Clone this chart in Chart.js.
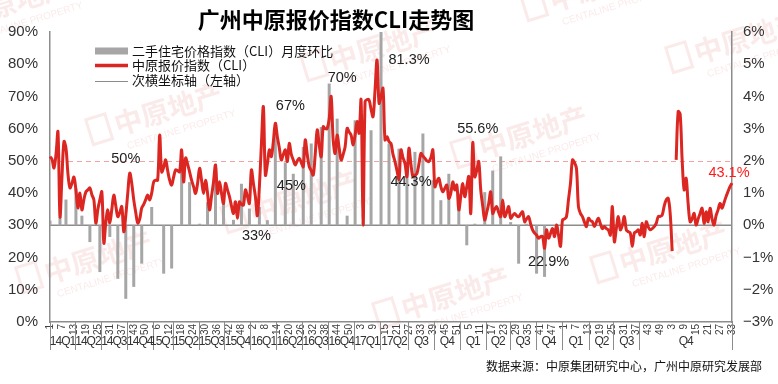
<!DOCTYPE html>
<html>
<head>
<meta charset="utf-8">
<script src="https://cdn.jsdelivr.net/npm/chart.js@4"></script>
<style>
  body { margin: 0; background: #fff; }
  #wrap { width: 778px; height: 384px; position: relative; }
</style>
</head>
<body>
<div id="wrap"><canvas id="cliChart"></canvas></div>
<script>
// 中原报价指数 CLI, weekly (left axis, %)
const cliValues = [
  51.3, 50.5, 47.8, 52, 59, 32.7, 45, 56, 54, 46,
  41.6, 43, 45, 41, 35.4, 40, 34.8, 38, 40.4, 41,
  41.6, 39.5, 37.9, 30.7, 35, 37.9, 40.4, 24.5, 31, 34.8,
  30.7, 35, 39.4, 36, 32.7, 34, 35.8, 28, 33, 40,
  46.2, 43, 37.9, 34, 30.7, 32, 35.4, 36.5, 38, 39.4,
  37.9, 40, 43.5, 44, 44, 58, 46.6, 48, 50.3, 47,
  44, 42.5, 45, 47.2, 47, 46.6, 53.4, 43.5, 50.9, 49,
  46.6, 44, 42, 39.9, 43, 47.7, 44, 39.9, 44, 40,
  34.8, 39, 43.5, 48.7, 39.9, 43.5, 40, 36.8, 43, 41,
  38.9, 36, 33.7, 37.3, 32.2, 37.3, 36.5, 36.3, 41, 39,
  36.8, 47.2, 43, 38.9, 33, 42, 55, 66.8, 45.6, 49,
  53.4, 51.3, 56, 61.7, 57.5, 54, 50.3, 52, 53.4, 49.8,
  55.4, 52, 50.3, 48.7, 50, 50.8, 49.5, 48.2, 56.5, 52,
  48.2, 47, 45.6, 52, 59.6, 55, 51.3, 60.6, 60, 60.1,
  63, 70, 56.5, 52.3, 58, 54, 50.3, 52, 54.4, 60.1,
  59, 58, 54.9, 58, 62.2, 58.6, 68.9, 30.1, 68.4, 69,
  68.9, 66, 63.7, 72, 81.3, 67.9, 70, 72.5, 56.5, 57.5,
  56, 55.4, 52, 49.8, 47, 44.3, 53.4, 51, 49.2, 45.1,
  53.9, 49, 45.1, 45.5, 46.1, 49, 52.3, 51.5, 50.8, 50,
  49.8, 51, 53.4, 42, 43.5, 44.6, 42, 40.4, 41.5, 42.5,
  38.4, 40, 43.5, 41, 42.5, 34.8, 39, 43, 38.9, 42,
  45.1, 33.7, 55.6, 45.1, 47, 49.8, 41, 36, 31.7, 34,
  36.8, 40.4, 33.7, 35, 35.8, 34, 32.7, 37.9, 32.7, 34,
  35.8, 32.2, 33, 33.7, 33, 32.7, 33.5, 34.2, 31.1, 32,
  32.7, 30.5, 28.6, 27.6, 27, 26, 26.5, 26.5, 22.9, 28.6,
  26, 27.5, 29, 26.5, 30.1, 27, 23.5, 31.7, 32, 32.7,
  38, 43, 50.3, 49.5, 47.7, 35.8, 33.7, 32.7, 31, 29.6,
  32.2, 31.5, 31.1, 29.6, 31, 32.2, 30.5, 29, 29.6, 29,
  28.6, 27, 35.8, 24.9, 29, 32.7, 28.6, 30, 32.7, 28.6,
  28, 27.6, 23.5, 27.6, 28, 28.6, 27, 30.6, 26.5, 31.1,
  29.5, 28.6, 29, 29.6, 30.6, 32.7, 32.8, 33.2, 36, 37.9,
  38.4, 33.7, 22, null, 50.3, 65.3, 64.5, 50.3, 41, 44.6,
  36.8, 31.1, 32, 33.7, 30.1, 32, 33.7, 35.3, 30.6, 34.2,
  31.1, 35.3, 32, 30.1, 33, 34.8, 36.8, 35.3, 37, 38.9,
  40.5, 42, 43.1
];

// 二手住宅价格指数 月度环比 (right axis, %), week index each month falls on
const barWeek = [0, 5, 8, 13, 16, 20, 25, 30, 34, 38, 42, 46, 51, 57, 61, 66, 70, 75, 79, 83,
  87, 92, 96, 100, 105, 109, 113, 118, 122, 127, 131, 136, 140, 144, 149, 153, 157, 161, 166, 170,
  175, 179, 183, 187, 192, 196, 200, 205, 209, 213, 218, 222, 226, 231, 235, 239, 244, 248];
const momChange = [0.15, 0.26, 0.8, 1.14, 0.3, -0.52, -1.45, -0.36, -1.66, -2.28, -1.91, -1.19, 0.57, -1.5, -1.34, 1.7, 1.34, 0.05, 0.72, 1.91,
  0.72, 0.17, 1.29, 0.52, 0.57, 0.16, 2.92, 1.95, 1.6, 2.43, 2.54, 3.05, 4.4, 3.31, 0.3, 3.26, 0.36, 2.95, 6.0, 2.54,
  2.38, 1.97, 2.28, 2.85, 1.4, 0.78, 1.6, 0.98, -0.62, 0.05, 1.03, 1.7, 2.14, 0.1, -1.19, 0.05, -1.5, -1.6];

// week tick labels, one every 6 weeks
const tickStep = 6;
const tickLabels = ['1', '7', '13', '19', '25', '31', '37', '43', '50',
  '6', '12', '18', '24', '30', '36', '42', '48',
  '2', '8', '14', '20', '26', '32', '38', '44', '50',
  '3', '9', '15', '21', '27', '33', '39', '45', '51',
  '5', '11', '17', '23', '29', '35', '41', '47',
  '1', '7', '13', '19', '25', '31', '37', '43', '49',
  '3', '9', '15', '21', '27', '33'];

// quarter groups: name and first week index
const quarterNames = ['14Q1', '14Q2', '14Q3', '14Q4', '15Q1', '15Q2', '15Q3', '15Q4',
  '16Q1', '16Q2', '16Q3', '16Q4', '17Q1', '17Q2', 'Q3', 'Q4', 'Q1', 'Q2', 'Q3', 'Q4',
  'Q1', 'Q2', 'Q3', 'Q4'];
const quarterStarts = [0, 13, 26, 39, 52, 62, 75, 88, 101, 114, 127, 140, 153, 166, 180, 193,
  206, 219, 231, 244, 257, 271, 283, 296];

// value labels on the line
const callouts = [
  { idx: 38, value: 50, text: '50%', dx: 0, dy: -2 },
  { idx: 107, text: '67%', dx: 27, dy: -1 },
  { idx: 108, text: '45%', dx: 26, dy: 11 },
  { idx: 104, text: '33%', dx: -1, dy: 20 },
  { idx: 141, text: '70%', dx: 11, dy: -18 },
  { idx: 164, text: '81.3%', dx: 32, dy: 0 },
  { idx: 175, text: '44.3%', dx: 12, dy: 3 },
  { idx: 212, text: '55.6%', dx: 5, dy: -14 },
  { idx: 248, text: '22.9%', dx: 4, dy: 14 },
  { idx: 342, text: '43.1%', dx: -3, dy: -10, color: '#ff1a1a' }
];

const refLevel = 50;
const axisGray = '#8c8c8c';
const red = '#dc2622';
const barGray = '#a6a6a6';
const cjk = '"Noto Sans CJK SC", sans-serif';

const weeks = cliValues.map((_, i) => i);
const barData = cliValues.map(() => null);
barWeek.forEach((w, k) => { barData[w] = momChange[k]; });

Chart.defaults.font.family = '"Liberation Sans", Arial, sans-serif';
Chart.defaults.color = '#333';

// watermark spots (decoration only)
const watermarkSpots = [[12, 4], [165, 112], [380, 48], [95, 260], [300, 200], [530, 135], [452, 296], [670, 250], [745, 40], [600, -12]];

const decor = {
    id: 'decor',
    beforeDraw(chart) {
        const ctx = chart.ctx;
        ctx.save();
        ctx.fillStyle = 'rgba(226,90,90,0.13)';
        ctx.strokeStyle = 'rgba(226,90,90,0.13)';
        watermarkSpots.forEach(([x, y]) => {
            ctx.save();
            ctx.translate(x, y);
            ctx.rotate(-0.3);
            ctx.lineWidth = 3;
            ctx.strokeRect(-78, -16, 20, 26);
            ctx.font = 'bold 28px ' + cjk;
            ctx.textBaseline = 'middle';
            ctx.fillText('中原地产', -52, -2);
            ctx.font = '10px "Liberation Sans", Arial';
            ctx.fillText('CENTALINE PROPERTY', -46, 22);
            ctx.restore();
        });
        ctx.restore();
    },
    beforeDatasetsDraw(chart) {
        const { ctx, chartArea, scales } = chart;
        ctx.save();
        // 50% dashed reference
        const yr = Math.round(scales.y.getPixelForValue(refLevel)) + 0.5;
        ctx.strokeStyle = '#f3a3a3';
        ctx.lineWidth = 1;
        ctx.setLineDash([5, 4]);
        ctx.beginPath();
        ctx.moveTo(chartArea.left, yr);
        ctx.lineTo(chartArea.right, yr);
        ctx.stroke();
        // secondary horizontal axis (right axis zero)
        const y0 = scales.y1.getPixelForValue(0);
        ctx.setLineDash([]);
        ctx.strokeStyle = axisGray;
        ctx.lineWidth = 1.5;
        ctx.beginPath();
        ctx.moveTo(chartArea.left, y0);
        ctx.lineTo(chartArea.right, y0);
        ctx.stroke();
        ctx.restore();
    },
    afterDatasetsDraw(chart) {
        const { ctx, chartArea, scales } = chart;
        const xs = scales.x, ys = scales.y;
        ctx.save();

        // callouts
        ctx.font = '14.5px "Liberation Sans", Arial';
        ctx.textAlign = 'center';
        ctx.textBaseline = 'middle';
        callouts.forEach(c => {
            const v = c.value !== undefined ? c.value : cliValues[c.idx];
            ctx.fillStyle = c.color || '#222';
            ctx.fillText(c.text, xs.getPixelForValue(c.idx) + c.dx, ys.getPixelForValue(v) + c.dy);
        });

        // legend
        const lx = 95, lw = 33, tx = 132;
        const rows = [51, 65, 80];
        ctx.fillStyle = barGray;
        ctx.fillRect(lx, rows[0] - 3.5, lw, 7);
        ctx.strokeStyle = red;
        ctx.lineWidth = 3.5;
        ctx.beginPath(); ctx.moveTo(lx, rows[1] + 0.5); ctx.lineTo(lx + lw, rows[1] + 0.5); ctx.stroke();
        ctx.strokeStyle = axisGray;
        ctx.lineWidth = 1;
        ctx.beginPath(); ctx.moveTo(lx, rows[2] + 1.5); ctx.lineTo(lx + lw, rows[2] + 1.5); ctx.stroke();
        ctx.font = '13px ' + cjk;
        ctx.fillStyle = '#111';
        ctx.textAlign = 'left';
        ctx.fillText('二手住宅价格指数（CLI）月度环比', tx, rows[0]);
        ctx.fillText('中原报价指数（CLI）', tx, rows[1]);
        ctx.fillText('次横坐标轴（左轴）', tx, rows[2]);

        // title
        ctx.font = 'bold 22px ' + cjk;
        ctx.fillStyle = '#000';
        ctx.textAlign = 'center';
        ctx.fillText('广州中原报价指数CLI走势图', 336, 20);

        // quarter row under the week ticks
        const bottom = chartArea.bottom;
        const edge = i => i <= 0 ? chartArea.left
            : i >= cliValues.length ? chartArea.right
            : (xs.getPixelForValue(i - 1) + xs.getPixelForValue(i)) / 2;
        ctx.strokeStyle = axisGray;
        ctx.lineWidth = 1;
        ctx.font = '12px "Liberation Sans", Arial';
        ctx.fillStyle = '#333';
        if ('letterSpacing' in ctx) ctx.letterSpacing = '-1px';
        quarterNames.forEach((q, k) => {
            const a = edge(quarterStarts[k]);
            const b = edge(k + 1 < quarterStarts.length ? quarterStarts[k + 1] : cliValues.length);
            ctx.beginPath();
            ctx.moveTo(Math.round(a) + 0.5, bottom);
            ctx.lineTo(Math.round(a) + 0.5, bottom + 28);
            ctx.stroke();
            ctx.fillText(q, (a + b) / 2, bottom + 20);
        });
        const r = Math.round(chartArea.right) + 0.5;
        ctx.beginPath(); ctx.moveTo(r, bottom); ctx.lineTo(r, bottom + 28); ctx.stroke();
        if ('letterSpacing' in ctx) ctx.letterSpacing = '0px';

        // source
        ctx.font = '12px ' + cjk;
        ctx.fillStyle = '#111';
        ctx.textAlign = 'right';
        ctx.fillText('数据来源：中原集团研究中心，广州中原研究发展部', 762, 366);
        ctx.restore();
    }
};

new Chart(document.getElementById('cliChart'), {
    type: 'bar',
    data: {
        labels: weeks,
        datasets: [
            {
                type: 'line',
                label: '中原报价指数（CLI）',
                data: cliValues,
                yAxisID: 'y',
                borderColor: red,
                borderWidth: 3,
                pointRadius: 0,
                tension: 0.35,
                borderJoinStyle: 'round',
                spanGaps: false,
                order: 1,
            },
            {
                type: 'bar',
                label: '二手住宅价格指数（CLI）月度环比',
                data: barData,
                yAxisID: 'y1',
                backgroundColor: barGray,
                barThickness: 3,
                maxBarThickness: 3,
                inflateAmount: 0,
                order: 2,
            },
        ],
    },
    options: {
        responsive: true,
        maintainAspectRatio: false,
        animation: false,
        layout: { padding: { top: 32, left: 0, right: 0, bottom: 0 } },
        plugins: {
            legend: { display: false },
            tooltip: { enabled: false },
            title: { display: false },
        },
        scales: {
            x: {
                type: 'category',
                offset: false,
                grid: { display: false, drawTicks: false, offset: false },
                border: { display: true, color: axisGray, width: 1.5 },
                ticks: {
                    autoSkip: false,
                    maxRotation: 90,
                    minRotation: 90,
                    padding: 2,
                    font: { size: 10 },
                    color: '#404040',
                    callback: (v, i) => i % tickStep === 0 ? tickLabels[i / tickStep] : '',
                },
                afterFit: s => { s.height = 62; },
            },
            y: {
                position: 'left',
                min: 0,
                max: 90,
                grid: { display: false, drawTicks: false },
                border: { display: true, color: axisGray, width: 1.5 },
                ticks: { stepSize: 10, padding: 12, font: { size: 15 }, color: '#333', callback: v => v + '%' },
                afterFit: s => { s.width = 50; },
            },
            y1: {
                position: 'right',
                min: -3,
                max: 6,
                grid: { display: false, drawTicks: false },
                border: { display: true, color: axisGray, width: 1.5 },
                ticks: { stepSize: 1, padding: 11, font: { size: 15 }, color: '#333',
                    callback: v => (v < 0 ? '−' + Math.abs(v) : v) + '%' },
                afterFit: s => { s.width = 46; },
            },
        },
    },
    plugins: [decor],
});
</script>
</body>
</html>
